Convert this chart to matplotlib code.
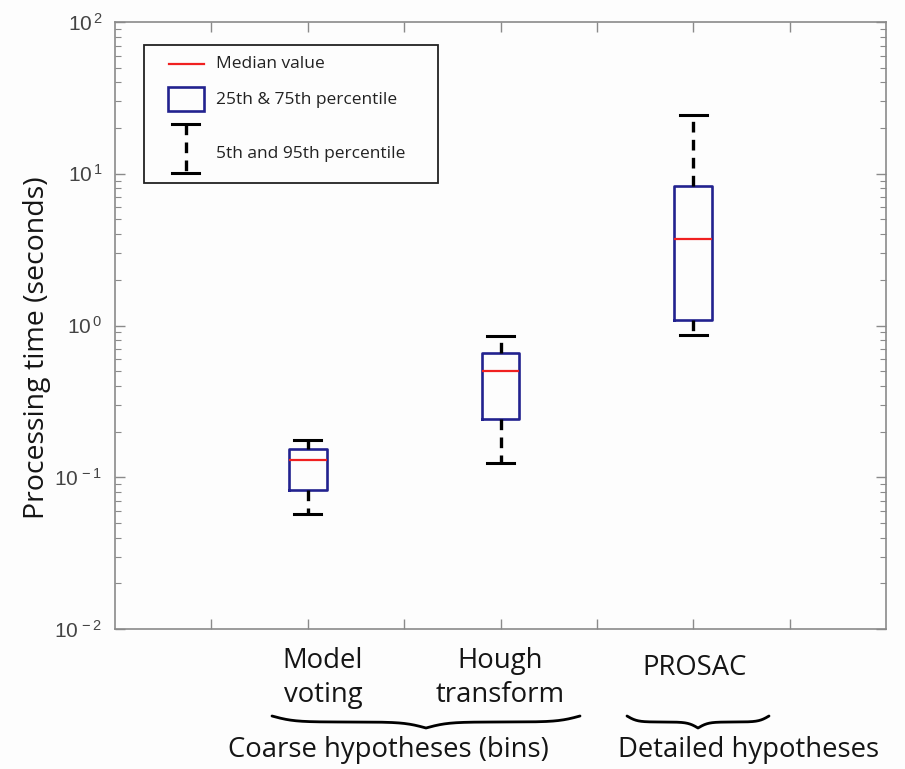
import numpy as np
import matplotlib
matplotlib.use("Agg")
import matplotlib.pyplot as plt
from matplotlib.patches import Rectangle
from matplotlib.lines import Line2D

# Processing-time summary statistics (seconds)
methods = ["Model\nvoting", "Hough\ntransform", "PROSAC"]
p5 = [0.057, 0.124, 0.865]
q25 = [0.082, 0.242, 1.087]
medians = [0.130, 0.501, 3.72]
q75 = [0.154, 0.659, 8.3]
p95 = [0.176, 0.853, 24.4]
groups = ["Coarse hypotheses (bins)", "Detailed hypotheses"]
legend_labels = ["Median value", "25th & 75th percentile", "5th and 95th percentile"]
y_decades = [-2, -1, 0, 1, 2]

W, H = 905, 769
plt.rcParams["font.family"] = ["Open Sans", "DejaVu Sans"]
plt.rcParams["mathtext.fontset"] = "custom"
plt.rcParams["mathtext.rm"] = "Liberation Sans"
plt.rcParams["mathtext.it"] = "Liberation Sans"

fig = plt.figure(figsize=(W / 100, H / 100), dpi=100, facecolor="#fdfdfd")
ax = fig.add_axes([115 / W, 1 - 629 / H, (886 - 115) / W, (629 - 22) / H])
ax.set_facecolor("#fdfdfd")

BOX = "#22228f"
RED = "#f02020"
AXC = "#8a8a8a"
TXT = "#151515"

positions = [2, 4, 6]
stats = []
for i, name in enumerate(methods):
    stats.append(dict(label=name, med=medians[i], q1=q25[i], q3=q75[i],
                      whislo=p5[i], whishi=p95[i], fliers=[]))

ax.bxp(stats, positions=positions, widths=0.39, capwidths=0.28,
       showfliers=False, manage_ticks=False,
       boxprops=dict(color=BOX, linewidth=1.9),
       medianprops=dict(color=RED, linewidth=1.6),
       whiskerprops=dict(color="black", linewidth=2.4, linestyle=(0, (3.2, 2.2))),
       capprops=dict(color="black", linewidth=2.2))

ax.set_yscale("log")
ax.set_ylim(10.0 ** y_decades[0], 10.0 ** y_decades[-1])
ax.set_xlim(0, 8)
ax.set_xticks(np.arange(1, 8))
ax.set_xticklabels([])
ax.set_yticks([10.0 ** d for d in y_decades])
ax.set_yticklabels([r"$10^{\,%d}$" % d for d in y_decades], color="#444444", fontsize=15)
ax.tick_params(axis="both", which="both", direction="in", colors=AXC,
               top=True, right=True, labelcolor="#444444")
ax.tick_params(axis="both", which="major", length=7, width=1)
ax.tick_params(axis="y", which="minor", length=4, width=0.8)
ax.tick_params(axis="y", which="major", pad=9)
for s in ax.spines.values():
    s.set_color(AXC)
    s.set_linewidth(1.2)


def fx(px):
    return np.asarray(px) / W


def fy(py):
    return 1 - np.asarray(py) / H


tf = fig.transFigure

# Vertical axis title
fig.text(fx(37), fy(348), "Processing time (seconds)", fontsize=20.5, color=TXT,
         rotation=90, ha="center", va="center")

# Legend panel
fig.add_artist(Rectangle((fx(144), fy(183)), fx(438) - fx(144), fy(45) - fy(183),
                         transform=tf, facecolor="#fdfdfd", edgecolor="#222222", lw=1.3))
fig.add_artist(Line2D([fx(169), fx(204)], [fy(64), fy(64)], transform=tf, color=RED, lw=1.6))
fig.add_artist(Rectangle((fx(168), fy(111)), fx(204) - fx(168), fy(87) - fy(111),
                         transform=tf, facecolor="none", edgecolor=BOX, lw=1.9))
fig.add_artist(Line2D([fx(172), fx(199)], [fy(124), fy(124)], transform=tf, color="black", lw=2.2))
fig.add_artist(Line2D([fx(172), fx(199)], [fy(173), fy(173)], transform=tf, color="black", lw=2.2))
fig.add_artist(Line2D([fx(185.5), fx(185.5)], [fy(124), fy(173)], transform=tf, color="black",
                      lw=2.4, linestyle=(0, (3.2, 2.2))))
for lbl, ypx in zip(legend_labels, [64, 100, 154]):
    fig.text(fx(216), fy(ypx), lbl, fontsize=12.5, color="#222222", va="center", ha="left")

# Method labels beneath the axis
label_px = [(323, 678), (500, 678), (695, 668)]
for name, (xp, yp) in zip(methods, label_px):
    fig.text(fx(xp), fy(yp), name, fontsize=19.8, color=TXT, ha="center", va="center",
             linespacing=1.25)


# Curly braces grouping the methods
def brace(x0, x1, ytop, depth, beta=12.0, lw=1.8):
    n = 200
    t = np.linspace(0, 1, n)
    half = 1 / (1 + np.exp(-beta * t)) + 1 / (1 + np.exp(-beta * (t - 1)))
    half = (half - half[0]) / (half[-1] - half[0])
    prof = np.concatenate([half, half[-2::-1]])
    xs = np.linspace(x0, x1, prof.size)
    ys = ytop + depth * prof
    fig.add_artist(Line2D(fx(xs), fy(ys), transform=tf, color="black", lw=lw,
                          solid_capstyle="round"))


brace(272, 580, 716, 12, beta=14, lw=2.0)
brace(627, 769, 716, 12, beta=14, lw=2.0)

fig.text(fx(388), fy(750), groups[0], fontsize=19.8, color=TXT, ha="center", va="center")
fig.text(fx(749), fy(750), groups[1], fontsize=19.8, color=TXT, ha="center", va="center")

fig.savefig("out.png", dpi=100, facecolor=fig.get_facecolor())
